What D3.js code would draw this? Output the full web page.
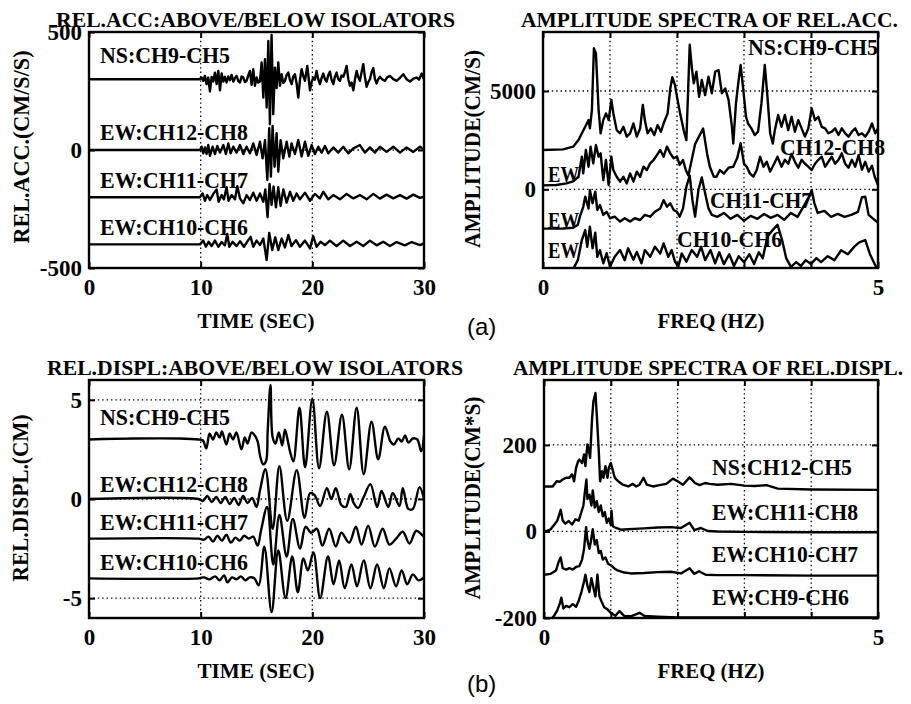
<!DOCTYPE html>
<html><head><meta charset="utf-8">
<script src="https://cdn.jsdelivr.net/npm/d3@7"></script>
<style>
html,body{margin:0;padding:0;background:#fff;}
svg{display:block;}
text{font-family:"Liberation Serif","Times New Roman",serif;font-weight:bold;fill:#000;}
</style></head><body>
<svg id="chart" width="911" height="704"></svg>
<script>
// ---------------- DATA (values as plotted, offsets included) ----------------
// (a) left: relative acceleration time histories [time s, cm/s/s]
const accNS = [[0,300],[9.9,300],[10.08,307],[10.23,293],[10.38,314],[10.53,279],[10.68,307],[10.83,248],[10.98,310],[11.13,290],[11.28,328],[11.43,279],[11.58,335],[11.73,253],[11.88,324],[12.03,290],[12.17,310],[12.32,286],[12.47,312],[12.62,296],[12.77,318],[12.92,290],[13.07,305],[13.22,314],[13.37,292],[13.52,286],[13.67,312],[13.82,307],[13.97,288],[14.11,293],[14.26,316],[14.41,335],[14.56,276],[14.71,342],[14.86,272],[15.01,307],[15.16,286],[15.31,290],[15.46,371],[15.61,222],[15.76,385],[15.91,180],[16.06,462],[16.2,109],[16.35,488],[16.5,152],[16.65,349],[16.8,262],[16.95,371],[17.1,272],[17.25,321],[17.4,284],[17.55,293],[17.7,318],[17.85,328],[18.0,296],[18.14,279],[18.3,312],[18.44,321],[18.6,280],[18.74,222],[18.9,300],[19.04,342],[19.2,312],[19.34,293],[19.55,356],[19.79,253],[19.95,290],[20.08,307],[20.23,298],[20.38,335],[20.53,300],[20.68,279],[20.83,305],[20.98,324],[21.13,300],[21.28,290],[21.43,318],[21.58,332],[21.73,296],[21.88,279],[22.03,312],[22.17,328],[22.32,300],[22.47,293],[22.62,316],[22.77,310],[22.92,330],[23.07,356],[23.22,300],[23.37,272],[23.52,286],[23.67,253],[23.82,300],[23.97,335],[24.1,310],[24.26,293],[24.41,330],[24.56,364],[24.71,310],[24.86,268],[25.01,288],[25.16,300],[25.31,330],[25.46,347],[25.61,300],[25.76,282],[25.9,300],[26.05,310],[26.25,300],[26.5,293],[26.7,308],[26.95,314],[27.25,300],[27.55,293],[27.85,306],[28.14,321],[28.44,300],[28.74,290],[29.04,302],[29.34,307],[29.55,298],[29.79,324],[30,300]];
const accCH12 = [[0,0],[9.94,0],[10.08,14],[10.23,-14],[10.38,11],[10.53,-17],[10.68,21],[10.83,-25],[11.07,14],[11.28,-17],[11.49,17],[11.73,-11],[12.03,21],[12.26,-17],[12.47,28],[12.68,-14],[12.92,14],[13.22,-11],[13.52,21],[13.82,-17],[14.11,14],[14.41,-14],[14.71,28],[15.01,-21],[15.31,35],[15.55,-35],[15.76,42],[15.97,-127],[16.14,92],[16.29,-113],[16.44,102],[16.62,-71],[16.8,71],[16.95,-92],[17.16,42],[17.4,-35],[17.7,35],[17.94,-28],[18.14,28],[18.44,-17],[18.74,42],[19.04,-28],[19.34,35],[19.64,-25],[19.94,21],[20.23,-17],[20.53,14],[20.83,-11],[21.13,17],[21.43,-14],[21.88,11],[22.32,-11],[22.77,14],[23.22,-14],[23.67,7],[24.26,21],[24.71,-11],[25.16,11],[25.61,-11],[26.05,14],[26.65,-8],[27.25,14],[27.85,-11],[28.44,11],[29.04,-8],[29.64,14],[30,0]];
const accCH11 = [[0,-200],[9.94,-200],[10.17,-184],[10.38,-215],[10.59,-191],[10.83,-212],[11.13,-186],[11.43,-167],[11.61,-219],[11.88,-191],[12.08,-209],[12.32,-158],[12.5,-215],[12.77,-191],[13.07,-209],[13.28,-153],[13.52,-205],[13.82,-226],[14.11,-191],[14.41,-212],[14.71,-181],[15.01,-215],[15.31,-184],[15.61,-219],[15.79,-167],[15.99,-285],[16.17,-144],[16.35,-233],[16.53,-155],[16.74,-243],[16.95,-158],[17.16,-237],[17.4,-167],[17.7,-223],[18.0,-177],[18.29,-215],[18.59,-184],[18.89,-209],[19.34,-181],[19.79,-215],[20.23,-186],[20.68,-205],[20.98,-177],[21.43,-209],[21.88,-191],[22.47,-209],[23.07,-186],[23.67,-205],[24.26,-191],[24.86,-209],[25.46,-186],[26.05,-206],[26.65,-189],[27.25,-205],[27.85,-191],[28.44,-206],[29.04,-189],[29.64,-203],[30,-198]];
const accCH10 = [[0,-400],[9.94,-400],[10.23,-384],[10.47,-410],[10.71,-389],[10.98,-407],[11.28,-384],[11.58,-410],[11.88,-390],[12.17,-404],[12.38,-356],[12.56,-410],[12.86,-389],[13.22,-407],[13.52,-387],[13.88,-410],[14.26,-382],[14.47,-368],[14.71,-410],[15.01,-384],[15.31,-403],[15.61,-375],[15.91,-466],[16.14,-351],[16.41,-424],[16.68,-370],[16.95,-424],[17.25,-375],[17.55,-413],[17.85,-360],[18.14,-407],[18.53,-382],[18.89,-410],[19.34,-384],[19.79,-417],[20.08,-365],[20.38,-410],[20.74,-389],[21.13,-403],[21.58,-384],[22.17,-407],[22.77,-384],[23.37,-407],[23.97,-389],[24.56,-407],[25.16,-384],[25.76,-404],[26.35,-389],[26.95,-407],[27.55,-390],[28.29,-404],[28.89,-390],[29.64,-403],[30,-396]];

// (a) right: amplitude spectra of relative acceleration [Hz, cm/s]
const specNS = [[0,2000],[0.3,2030],[0.45,2170],[0.53,2510],[0.58,2850],[0.63,3180],[0.68,3520],[0.7,3100],[0.73,4030],[0.76,7170],[0.79,6910],[0.83,4030],[0.86,2850],[0.9,3520],[0.94,3860],[0.98,3520],[1.02,4540],[1.05,3860],[1.1,3010],[1.15,2850],[1.2,3180],[1.25,2680],[1.3,2850],[1.35,3350],[1.4,2680],[1.45,3100],[1.49,4290],[1.52,3520],[1.56,2850],[1.61,3100],[1.66,2760],[1.71,3270],[1.76,2930],[1.81,3440],[1.86,3860],[1.9,5130],[1.93,5700],[1.97,5300],[2.0,4700],[2.05,3800],[2.1,3000],[2.14,2500],[2.19,7350],[2.22,6230],[2.25,5390],[2.29,5980],[2.33,4710],[2.37,5560],[2.42,4790],[2.47,5730],[2.52,4880],[2.57,5980],[2.62,6070],[2.67,4880],[2.72,5130],[2.77,4540],[2.82,3180],[2.84,2330],[2.88,4370],[2.92,5560],[2.95,6320],[2.99,5050],[3.03,3690],[3.06,3350],[3.11,3100],[3.16,2760],[3.21,2930],[3.26,4370],[3.31,6320],[3.35,4710],[3.39,2850],[3.43,2330],[3.46,3010],[3.51,3780],[3.56,3180],[3.61,3780],[3.66,3010],[3.71,3690],[3.76,2930],[3.81,3520],[3.86,3100],[3.91,2680],[3.96,3100],[4.01,4110],[4.06,3520],[4.11,3690],[4.16,3180],[4.21,3100],[4.26,2850],[4.31,2930],[4.36,3100],[4.41,2760],[4.46,3100],[4.51,2850],[4.56,2680],[4.61,2930],[4.66,3100],[4.71,2760],[4.76,2850],[4.81,2680],[4.86,2930],[4.91,3350],[4.96,2850],[5.0,3100]];
const specCH12 = [[0,200],[0.2,220],[0.35,300],[0.45,400],[0.53,640],[0.58,1660],[0.6,810],[0.64,2000],[0.68,1150],[0.71,2170],[0.75,1320],[0.79,2250],[0.83,1660],[0.86,1830],[0.9,470],[0.94,1490],[0.98,220],[1.02,1660],[1.05,980],[1.1,640],[1.15,390],[1.2,640],[1.25,300],[1.3,810],[1.35,390],[1.4,900],[1.45,640],[1.5,1150],[1.55,980],[1.6,1320],[1.65,1490],[1.7,1740],[1.75,2000],[1.8,1660],[1.85,2170],[1.9,1830],[1.95,1580],[2.0,1660],[2.04,1240],[2.09,1490],[2.13,1000],[2.17,700],[2.22,1500],[2.27,2300],[2.33,2700],[2.39,3090],[2.45,1800],[2.49,1150],[2.55,640],[2.59,640],[2.64,980],[2.7,800],[2.77,1100],[2.84,1150],[2.9,1600],[2.95,2340],[3.0,1300],[3.04,1150],[3.09,800],[3.14,640],[3.19,980],[3.24,1660],[3.29,1150],[3.34,1400],[3.39,900],[3.45,1300],[3.5,1660],[3.56,1150],[3.61,1500],[3.66,1300],[3.71,1800],[3.76,1400],[3.81,1100],[3.86,1500],[3.91,1300],[3.96,1150],[4.01,980],[4.06,1300],[4.11,1500],[4.16,1660],[4.21,1150],[4.26,1400],[4.31,1660],[4.36,1300],[4.41,1500],[4.46,1830],[4.51,1300],[4.56,1100],[4.61,1500],[4.66,1150],[4.71,1740],[4.76,1000],[4.81,1400],[4.86,900],[4.91,1200],[4.95,650],[5.0,220]];
const specCH11 = [[0,-2000],[0.3,-1990],[0.45,-1950],[0.52,-1800],[0.55,-1390],[0.6,-900],[0.63,-370],[0.68,-970],[0.7,-40],[0.74,-710],[0.78,-120],[0.81,-1050],[0.85,-800],[0.9,-1300],[0.95,-1140],[1.0,-1470],[1.07,-1390],[1.15,-1640],[1.22,-1470],[1.3,-1640],[1.37,-1470],[1.45,-1560],[1.52,-1300],[1.6,-1390],[1.67,-1140],[1.75,-970],[1.8,-550],[1.85,-880],[1.9,-710],[1.95,-1050],[2.0,-1140],[2.04,-1390],[2.09,-970],[2.14,130],[2.19,700],[2.23,-540],[2.27,-1390],[2.32,-30],[2.37,600],[2.42,-200],[2.47,-970],[2.52,-1300],[2.6,-1400],[2.7,-1200],[2.8,-1500],[2.9,-1300],[3.0,-1600],[3.1,-1350],[3.2,-1500],[3.3,-1250],[3.4,-1450],[3.5,-1300],[3.6,-1550],[3.7,-1200],[3.8,-1400],[3.9,-800],[3.98,-300],[4.01,-50],[4.05,-700],[4.1,-1200],[4.2,-1100],[4.3,-1400],[4.4,-1250],[4.5,-1400],[4.6,-1300],[4.7,-1150],[4.76,-400],[4.81,-380],[4.86,-1300],[4.93,-1500],[5.0,-1700]];
const specCH10 = [[0,-4100],[0.45,-4050],[0.52,-3600],[0.58,-2580],[0.63,-2070],[0.66,-2920],[0.7,-1900],[0.74,-3000],[0.78,-2200],[0.81,-3430],[0.85,-3090],[0.9,-3760],[0.95,-3250],[1.0,-3930],[1.07,-3430],[1.15,-3090],[1.22,-3600],[1.27,-3000],[1.35,-3580],[1.4,-3180],[1.47,-3760],[1.52,-3090],[1.6,-3430],[1.67,-2920],[1.75,-3260],[1.8,-2750],[1.87,-3430],[1.92,-3090],[1.97,-3680],[2.02,-3930],[2.07,-3260],[2.14,-3680],[2.22,-3090],[2.3,-3430],[2.36,-2920],[2.42,-3600],[2.5,-3090],[2.57,-3760],[2.63,-3200],[2.7,-3800],[2.78,-3300],[2.85,-3900],[2.92,-3400],[3.0,-3700],[3.08,-3300],[3.15,-3800],[3.22,-3200],[3.28,-3500],[3.35,-2400],[3.42,-2100],[3.5,-1800],[3.57,-2600],[3.63,-3500],[3.7,-3940],[3.78,-3700],[3.85,-3900],[3.92,-3600],[4.0,-3800],[4.08,-3500],[4.15,-3700],[4.25,-3400],[4.35,-3600],[4.45,-3100],[4.55,-3300],[4.65,-2900],[4.72,-2700],[4.81,-2580],[4.88,-3300],[4.95,-3800],[5.0,-4100]];

// (b) left: relative displacement time histories [time s, cm]
const dspNS = [[0,3.0],[4,3.05],[8,3.05],[9.8,3.0],[10.2,2.95],[10.5,2.55],[10.8,3.3],[11.1,3.0],[11.4,3.35],[11.7,3.1],[11.9,3.4],[12.3,2.75],[12.6,3.3],[12.9,3.0],[13.2,3.35],[13.65,2.5],[13.95,3.1],[14.2,2.8],[14.55,3.35],[14.85,3.2],[15.1,2.9],[15.35,2.1],[15.6,1.75],[15.85,1.9],[16.0,3.4],[16.25,5.75],[16.45,3.1],[16.7,2.8],[17.0,3.35],[17.3,2.7],[17.55,3.5],[17.85,2.8],[18.0,2.4],[18.3,1.9],[18.85,4.6],[19.35,1.6],[20.0,5.05],[20.6,1.55],[21.3,4.4],[21.95,1.7],[22.65,4.25],[23.3,1.5],[23.97,4.6],[24.6,1.25],[25.3,3.9],[25.9,2.0],[26.5,3.65],[27.0,2.9],[27.3,2.75],[27.7,3.05],[28.0,2.9],[28.3,3.2],[28.6,2.85],[29.0,3.05],[29.4,3.0],[29.75,2.4],[30,3.2]];
const dspCH12 = [[0,0],[9.8,0],[10.2,-0.1],[10.6,0.15],[11.0,-0.15],[11.4,0.1],[11.8,-0.2],[12.2,0.1],[12.6,-0.25],[13.0,0.05],[13.4,-0.3],[13.8,0.15],[14.2,-0.2],[14.6,0.05],[15.0,-0.4],[15.3,0.4],[15.8,1.5],[16.45,-1.5],[17.05,1.65],[17.75,-1.1],[18.6,1.45],[19.3,-0.95],[19.8,0.3],[20.2,0.2],[20.7,-0.35],[21.3,0.55],[21.7,0.0],[22.1,0.55],[22.6,-0.3],[23.0,-0.4],[23.4,0.25],[23.7,-0.2],[24.1,-0.45],[24.6,0.1],[25.2,0.75],[25.8,-0.4],[26.2,0.4],[26.8,-0.4],[27.2,0.3],[27.8,-0.35],[28.1,0.55],[28.6,-0.5],[29.0,-0.5],[29.6,0.6],[30,0.0]];
const dspCH11 = [[0,-2],[9.8,-2],[10.3,-2.05],[10.7,-1.9],[11.1,-2.15],[11.5,-1.85],[11.9,-2.1],[12.3,-1.8],[12.7,-2.2],[13.1,-1.95],[13.5,-2.1],[13.9,-1.85],[14.3,-2.0],[14.7,-1.9],[15.1,-2.35],[15.4,-1.6],[15.95,-0.4],[16.5,-3.3],[17.05,-0.8],[17.7,-2.9],[18.25,-1.0],[18.9,-2.5],[19.4,-1.4],[19.9,-1.7],[20.4,-1.5],[20.9,-2.35],[21.5,-1.5],[22.1,-2.4],[22.6,-1.7],[23.3,-2.2],[23.9,-1.4],[24.4,-2.3],[25.0,-1.35],[25.6,-2.4],[26.3,-1.5],[26.9,-2.3],[27.5,-2.0],[28.1,-1.65],[28.7,-2.25],[29.3,-1.6],[29.8,-1.8],[30,-1.9]];
const dspCH10 = [[0,-4],[9.8,-4],[10.3,-3.95],[10.8,-4.05],[11.3,-3.9],[11.7,-4.1],[12.1,-3.85],[12.4,-4.2],[12.8,-3.95],[13.2,-4.05],[13.6,-3.9],[14.0,-4.1],[14.4,-3.95],[14.8,-4.0],[15.2,-4.35],[15.7,-2.4],[16.35,-5.7],[16.95,-2.6],[17.6,-5.0],[18.2,-2.9],[18.7,-4.7],[19.2,-3.0],[19.6,-3.6],[20.1,-2.7],[20.7,-5.0],[21.4,-2.9],[21.9,-4.3],[22.4,-3.1],[22.9,-4.5],[23.5,-3.3],[24.0,-4.4],[24.6,-3.1],[25.2,-4.5],[25.8,-3.3],[26.4,-4.5],[26.9,-3.5],[27.5,-4.4],[28.0,-3.6],[28.5,-4.3],[29.0,-3.8],[29.5,-4.1],[30,-3.95]];

// (b) right: amplitude spectra of relative displacement [Hz, cm*s]
const dspecNS = [[0,104],[0.13,104],[0.19,116],[0.24,115],[0.28,120],[0.33,124],[0.38,124],[0.42,132],[0.45,116],[0.48,147],[0.51,162],[0.53,166],[0.57,158],[0.6,178],[0.62,151],[0.65,201],[0.67,189],[0.69,170],[0.72,262],[0.74,301],[0.77,320],[0.79,270],[0.82,185],[0.84,116],[0.87,139],[0.89,124],[0.92,151],[0.95,124],[0.97,147],[1.0,158],[1.02,147],[1.06,124],[1.11,116],[1.18,108],[1.26,104],[1.33,110],[1.38,104],[1.43,108],[1.49,124],[1.54,108],[1.63,104],[1.73,107],[1.83,110],[1.93,122],[2.0,116],[2.08,108],[2.18,125],[2.26,112],[2.33,107],[2.41,112],[2.48,110],[2.6,108],[2.8,110],[3.0,106],[3.15,105],[3.33,107],[3.5,99],[4.0,97],[5.0,96]];
const dspecCH11 = [[0,0],[0.05,2],[0.1,5],[0.15,15],[0.2,25],[0.25,50],[0.28,25],[0.32,18],[0.37,24],[0.42,16],[0.47,28],[0.52,25],[0.56,45],[0.59,60],[0.615,95],[0.635,120],[0.65,75],[0.68,85],[0.71,60],[0.73,95],[0.76,55],[0.79,70],[0.82,45],[0.85,60],[0.88,35],[0.91,45],[0.94,20],[0.97,30],[1.0,15],[1.01,48],[1.03,12],[1.08,8],[1.15,4],[1.25,5],[1.35,6],[1.5,7],[1.7,9],[1.9,10],[2.05,8],[2.18,20],[2.25,3],[2.35,8],[2.45,1],[2.6,0],[3.0,-1],[4.0,-2],[5.0,-2]];
const dspecCH10 = [[0,-100],[0.1,-98],[0.18,-90],[0.22,-70],[0.25,-60],[0.28,-85],[0.33,-88],[0.38,-85],[0.43,-88],[0.48,-82],[0.53,-80],[0.57,-65],[0.6,-40],[0.63,10],[0.65,-20],[0.68,-40],[0.7,-25],[0.73,5],[0.76,-30],[0.79,-20],[0.82,-50],[0.85,-45],[0.88,-65],[0.92,-60],[0.96,-75],[1.0,-78],[1.05,-85],[1.1,-90],[1.2,-95],[1.3,-97],[1.5,-96],[1.7,-94],[1.9,-93],[2.05,-97],[2.18,-85],[2.25,-98],[2.32,-92],[2.42,-100],[2.6,-101],[3,-101],[4,-102],[5,-102]];
const dspecCH9 = [[0,-210],[0.1,-205],[0.15,-195],[0.2,-182],[0.24,-165],[0.26,-153],[0.29,-178],[0.33,-172],[0.38,-175],[0.43,-168],[0.48,-174],[0.52,-160],[0.56,-140],[0.6,-115],[0.62,-100],[0.65,-125],[0.68,-140],[0.71,-108],[0.74,-130],[0.77,-150],[0.8,-100],[0.83,-150],[0.87,-165],[0.9,-175],[0.95,-180],[1.0,-188],[1.07,-195],[1.13,-184],[1.2,-195],[1.3,-196],[1.43,-188],[1.5,-195],[1.7,-197],[2.0,-199],[3,-199],[5,-199]];

// ticks and labels
const timeTicks = [0,10,20,30];
const timeTickLabels = ["0","10","20","30"];
const freqTicks = [0,1,2,3,4,5];
const freqTickLabels = ["0","","","","","5"];
const accTicks = [-500,0,500];
const accTickLabels = ["-500","0","500"];
const specAccTicks = [0,5000];
const specAccTickLabels = ["0","5000"];
const dispTicks = [-5,0,5];
const dispTickLabels = ["-5","0","5"];
const specDispTicks = [-200,0,200];
const specDispTickLabels = ["-200","0","200"];

const titles = ["REL.ACC:ABOVE/BELOW ISOLATORS","AMPLITUDE SPECTRA OF REL.ACC.","REL.DISPL:ABOVE/BELOW ISOLATORS","AMPLITUDE SPECTRA OF REL.DISPL."];
const yLabels = ["REL.ACC.(CM/S/S)","AMPLITUDE(CM/S)","REL.DISPL.(CM)","AMPLITUDE(CM*S)"];
const xLabels = ["TIME (SEC)","FREQ (HZ)","TIME (SEC)","FREQ (HZ)"];
const accNames = ["NS:CH9-CH5","EW:CH12-CH8","EW:CH11-CH7","EW:CH10-CH6"];
const specAccNames = ["NS:CH9-CH5","CH12-CH8","EW","CH11-CH7","EW","CH10-CH6","EW"];
const dispNames = ["NS:CH9-CH5","EW:CH12-CH8","EW:CH11-CH7","EW:CH10-CH6"];
const specDispNames = ["NS:CH12-CH5","EW:CH11-CH8","EW:CH10-CH7","EW:CH9-CH6"];
const partLabels = ["(a)","(b)"];

// ---------------- DRAWING ----------------
const svg = d3.select("#chart");

const panels = [
  {x0:89, x1:424, y0:32, y1:268, xd:[0,30], yd:[-500,500], xt:timeTicks, xtl:timeTickLabels, yt:accTicks, ytl:accTickLabels,
   series:[accNS,accCH12,accCH11,accCH10], curve:d3.curveLinear,
   title:{x:255.5,y:27,len:399,fs:22}, ylab:{x:29,y:147,len:193}, xlab:{x:256,y:328,len:117},
   labels:[[100,63,130],[100,140,148],[100,188,148],[100,235,148]], names:accNames},
  {x0:543, x1:878, y0:32, y1:268, xd:[0,5], yd:[-4000,8000], xt:freqTicks, xtl:freqTickLabels, yt:specAccTicks, ytl:specAccTickLabels,
   series:[specNS,specCH12,specCH11,specCH10], curve:d3.curveLinear,
   title:{x:709.5,y:27,len:377,fs:20}, ylab:{x:480,y:149,len:198}, xlab:{x:711,y:328,len:107},
   labels:[[748,55,130],[780,155,105],[548,182,31],[710,208,102],[548,228,31],[677,247,105],[548,258,31]], names:specAccNames},
  {x0:89, x1:424, y0:380, y1:618, xd:[0,30], yd:[-6,6], xt:timeTicks, xtl:timeTickLabels, yt:dispTicks, ytl:dispTickLabels,
   series:[dspNS,dspCH12,dspCH11,dspCH10], curve:d3.curveCatmullRom.alpha(0.5),
   title:{x:255,y:375,len:416,fs:22}, ylab:{x:28,y:498,len:167}, xlab:{x:256,y:678,len:117},
   labels:[[100,425,130],[100,492,148],[100,530,148],[100,570,148]], names:dispNames},
  {x0:544, x1:878, y0:380, y1:618, xd:[0,5], yd:[-200,350], xt:freqTicks, xtl:freqTickLabels, yt:specDispTicks, ytl:specDispTickLabels,
   series:[dspecNS,dspecCH11,dspecCH10,dspecCH9], curve:d3.curveLinear,
   title:{x:708,y:375,len:390,fs:20}, ylab:{x:480,y:498,len:203}, xlab:{x:711,y:678,len:107},
   labels:[[712,475,140],[712,520,146],[712,562,146],[712,605,137]], names:specDispNames}
];

panels.forEach((p,i)=>{
  const x = d3.scaleLinear().domain(p.xd).range([p.x0,p.x1]);
  const y = d3.scaleLinear().domain(p.yd).range([p.y1,p.y0]);
  const g = svg.append("g");

  // grid (dotted)
  const xin = p.xt.filter(v=>v>p.xd[0] && v<p.xd[1]);
  const yin = p.yt.filter(v=>v>p.yd[0] && v<p.yd[1]);
  g.selectAll(".vg").data(xin).join("line")
    .attr("x1",d=>x(d)).attr("x2",d=>x(d)).attr("y1",p.y0).attr("y2",p.y1)
    .attr("stroke","#000").attr("stroke-width",1.3).attr("stroke-dasharray","1.4,3");
  g.selectAll(".hg").data(yin).join("line")
    .attr("x1",p.x0).attr("x2",p.x1).attr("y1",d=>y(d)).attr("y2",d=>y(d))
    .attr("stroke","#000").attr("stroke-width",1.3).attr("stroke-dasharray","1.4,3");

  // traces
  const cid = "clip"+i;
  svg.append("clipPath").attr("id",cid).append("rect")
    .attr("x",p.x0).attr("y",p.y0).attr("width",p.x1-p.x0).attr("height",p.y1-p.y0);
  const line = d3.line().x(d=>x(d[0])).y(d=>y(d[1])).curve(p.curve);
  g.append("g").attr("clip-path",`url(#${cid})`).selectAll("path").data(p.series).join("path")
    .attr("d",line).attr("fill","none").attr("stroke","#000").attr("stroke-width",2.4)
    .attr("stroke-linejoin","round");

  // axes (ticks inward)
  const fmtX = d=>p.xtl[p.xt.indexOf(d)];
  const fmtY = d=>p.ytl[p.yt.indexOf(d)];
  const ax = g.append("g").attr("transform",`translate(0,${p.y1})`)
    .call(d3.axisBottom(x).tickValues(p.xt).tickFormat(fmtX).tickSizeInner(-6).tickSizeOuter(0).tickPadding(11));
  const ay = g.append("g").attr("transform",`translate(${p.x0},0)`)
    .call(d3.axisLeft(y).tickValues(p.yt).tickFormat(fmtY).tickSizeInner(-6).tickSizeOuter(0).tickPadding(7));
  const axT = g.append("g").attr("transform",`translate(0,${p.y0})`)
    .call(d3.axisTop(x).tickValues(p.xt).tickFormat("").tickSizeInner(-6).tickSizeOuter(0));
  const ayR = g.append("g").attr("transform",`translate(${p.x1},0)`)
    .call(d3.axisRight(y).tickValues(p.yt).tickFormat("").tickSizeInner(-6).tickSizeOuter(0));
  [ax,ay,axT,ayR].forEach(a=>{
    a.select(".domain").remove();
    a.selectAll("line").attr("stroke","#000").attr("stroke-width",2);
    a.selectAll("text").attr("font-family","Liberation Serif, serif").attr("font-weight","bold")
      .attr("font-size",23).attr("fill","#000");
  });

  // frame
  g.append("rect").attr("x",p.x0).attr("y",p.y0).attr("width",p.x1-p.x0).attr("height",p.y1-p.y0)
    .attr("fill","none").attr("stroke","#000").attr("stroke-width",2.4);

  // series labels
  g.selectAll(".sl").data(p.labels).join("text")
    .attr("x",d=>d[0]).attr("y",d=>d[1]).attr("font-size",23)
    .attr("textLength",d=>d[2]).attr("lengthAdjust","spacingAndGlyphs")
    .text((d,k)=>p.names[k]);

  // title
  g.append("text").attr("x",p.title.x).attr("y",p.title.y).attr("text-anchor","middle")
    .attr("font-size",p.title.fs).attr("textLength",p.title.len).attr("lengthAdjust","spacingAndGlyphs")
    .text(titles[i]);
  // y label
  g.append("text").attr("transform",`translate(${p.ylab.x},${p.ylab.y}) rotate(-90)`)
    .attr("text-anchor","middle").attr("font-size",23)
    .attr("textLength",p.ylab.len).attr("lengthAdjust","spacingAndGlyphs").text(yLabels[i]);
  // x label
  g.append("text").attr("x",p.xlab.x).attr("y",p.xlab.y).attr("text-anchor","middle")
    .attr("font-size",22).attr("textLength",p.xlab.len).attr("lengthAdjust","spacingAndGlyphs")
    .text(xLabels[i]);
});

// part labels (a), (b)
svg.selectAll(".part").data(partLabels).join("text")
  .attr("x",467).attr("y",(d,i)=>[335,692][i])
  .style("font-family","Liberation Sans, Arial, sans-serif").style("font-weight","normal")
  .attr("font-size",24).text(d=>d);
</script>
</body></html>
